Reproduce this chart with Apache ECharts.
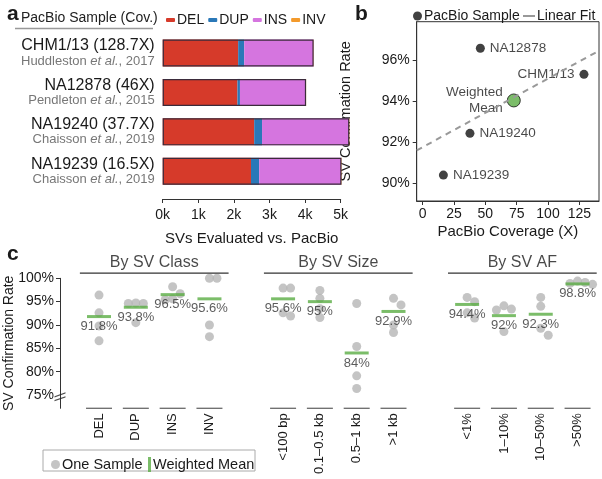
<!DOCTYPE html>
<html><head><meta charset="utf-8">
<script src="https://cdn.jsdelivr.net/npm/echarts@6/dist/echarts.min.js"></script>
<style>html,body{margin:0;padding:0;background:#fff}#c{width:602px;height:479px}</style>
</head><body><div id="c"></div>
<script>
const FONT = '"Liberation Sans", Arial, Helvetica, sans-serif';
const INK = '#1a1a1a';

// ---------- Panel a data ----------
const samples = ['CHM1/13 (128.7X)', 'NA12878 (46X)', 'NA19240 (37.7X)', 'NA19239 (16.5X)'];
const sourceAuthors = ['Huddleston', 'Pendleton', 'Chaisson', 'Chaisson'];
const sourceYears = ['2017', '2015', '2019', '2019'];
const delCounts = [2120, 2100, 2570, 2480];
const dupCounts = [170, 70, 220, 230];
const insCounts = [1940, 1850, 2440, 2300];
const invCounts = [10, 8, 12, 12];
const svTypeNames = ['DEL', 'DUP', 'INS', 'INV'];

// ---------- Panel b data ----------
const bSamples = ['CHM1/13', 'NA12878', 'NA19240', 'NA19239'];
const bCoverage = [128.7, 46, 37.7, 16.5];
const bRate = [95.3, 96.57, 92.43, 90.4];
const meanCoverage = [72.7];
const meanRate = [94.03];
const fitCoverage = [-4.8, 140.7];
const fitRate = [91.6, 96.45];
const bXTicks = [0, 25, 50, 75, 100, 125];
const bYTicks = [90, 92, 94, 96];

// ---------- Panel c data ----------
const cCategories = ['DEL', 'DUP', 'INS', 'INV', '', '<100 bp', '0.1–0.5 kb', '0.5–1 kb', '>1 kb', '', '<1%', '1–10%', '10–50%', '>50%'];
const cSampleRates = [
  [96.4, 92.6, 89.8, 86.6],
  [94.7, 94.6, 94.6, 90.5],
  [98.2, 96.7, 95.6, 95.4],
  [100.0, 100.0, 90.0, 87.5],
  null,
  [97.9, 97.9, 92.6, 91.9],
  [97.4, 95.7, 93.5, 91.6],
  [94.6, 85.4, 79.1, 76.4],
  [95.7, 94.3, 90.0, 88.4],
  null,
  [95.9, 95.0, 92.6, 91.5],
  [94.1, 93.4, 93.2, 88.6],
  [95.9, 94.0, 89.3, 87.8],
  [99.4, 99.1, 98.9, 98.7]
];
const cMeans = [91.8, 93.8, 96.5, 95.6, null, 95.6, 95, 84, 92.9, null, 94.4, 92, 92.3, 98.8];
const cGroupNames = ['By SV Class', 'By SV Size', 'By SV AF'];
const cGroupFirst = [0, 5, 10];
const cGroupLast = [3, 8, 13];
const cYLabels = [75, 80, 85, 90, 95, 100];
const cYTicks = [80, 85, 90, 95, 100];

// ---------- layout ----------
const GA = {left: 162.7, top: 33.3, width: 178, height: 157.7};
const GB = {left: 416.7, top: 21.7, width: 182.3, height: 179.3};
const GC = {left: 60, top: 278.3, width: 536.7, height: 130};
const C_XMIN = -1.06, C_XMAX = 13.52, C_YMIN = 72.15, C_YMAX = 100;
const HEADER_LINE_Y = 101.13, HEADER_TEXT_Y = 103.4;

const RED = '#d63a2a', BLUE = '#2a78b8', VIOLET = '#d575df', ORANGE = '#f39a2c';
const GREY = '#b5b5b5', GREEN = '#5aac44';

// beeswarm layout for sample points
const pyPerUnit = GC.height / (C_YMAX - C_YMIN);
const pxPerSlot = GC.width / (C_XMAX - C_XMIN);
const STEP = 7.5, MIN_D = 7.2;
const samplePoints = [];
cSampleRates.forEach((vals, i) => {
  if (!vals) return;
  const placed = [];
  [...vals].sort((a, b) => b - a).forEach(v => {
    for (const k of [0, 1, -1, 2, -2, 3, -3]) {
      const dx = k * STEP;
      if (placed.every(p => Math.hypot(dx - p.dx, (v - p.v) * pyPerUnit) >= MIN_D)) {
        placed.push({dx, v});
        samplePoints.push([i + dx / pxPerSlot, v]);
        break;
      }
    }
  });
});
const meanPoints = [];
cMeans.forEach((m, i) => { if (m != null) meanPoints.push([i, m]); });
const catIdx = [];
cCategories.forEach((c, i) => { if (c) catIdx.push(i); });

const totals = samples.map((_, i) => delCounts[i] + dupCounts[i] + insCounts[i] + invCounts[i]);

const txt = (size, extra) => Object.assign({fontFamily: FONT, fontSize: size, color: INK}, extra || {});

const series = [];
// Panel a bars
[[delCounts, RED], [dupCounts, BLUE], [insCounts, VIOLET], [invCounts, ORANGE]].forEach(([arr, col], k) => {
  series.push({
    name: svTypeNames[k], type: 'bar', stack: 'sv', xAxisIndex: 0, yAxisIndex: 0, clip: false,
    barWidth: 27, barGap: '-100%', data: arr, itemStyle: {color: col}, silent: true
  });
});
series.push({
  name: 'outline', type: 'bar', xAxisIndex: 0, yAxisIndex: 0, barWidth: 27, barGap: '-100%', clip: false,
  data: totals, itemStyle: {color: 'rgba(0,0,0,0)', borderColor: '#3b2b3b', borderWidth: 1.2}, z: 5, silent: true
});

// Panel b
series.push({
  name: 'Linear Fit', type: 'line', xAxisIndex: 1, yAxisIndex: 1,
  data: fitCoverage.map((x, i) => [x, fitRate[i]]), symbol: 'none',
  lineStyle: {color: '#999', width: 2, type: [6, 5]}, itemStyle: {color: '#999'}, silent: true
});
series.push({
  name: 'PacBio Sample', type: 'scatter', xAxisIndex: 1, yAxisIndex: 1, symbolSize: 9,
  itemStyle: {color: '#111'},
  data: bSamples.map((n, i) => ({
    name: n, value: [bCoverage[i], bRate[i]],
    label: {show: true, formatter: n, position: n === 'CHM1/13' ? 'left' : 'right', distance: 5, ...txt(13.5)}
  }))
});
series.push({
  name: 'b-mean', type: 'scatter', xAxisIndex: 1, yAxisIndex: 1, symbolSize: 13,
  itemStyle: {color: GREEN, borderColor: '#111', borderWidth: 1},
  data: meanCoverage.map((x, i) => [x, meanRate[i]]),
  label: {show: true, formatter: 'Weighted\nMean', position: 'left', distance: 4, align: 'right', lineHeight: 16, ...txt(13.5)}
});

// Panel c
cGroupNames.forEach((g, k) => {
  series.push({
    name: 'hdr' + k, type: 'line', xAxisIndex: 2, yAxisIndex: 2, clip: false, symbol: 'none', silent: true,
    data: [[cGroupFirst[k] - 0.52, HEADER_LINE_Y], [cGroupLast[k] + 0.52, HEADER_LINE_Y]],
    lineStyle: {color: '#333', width: 1.2}
  });
});
series.push({
  name: 'hdr-text', type: 'scatter', xAxisIndex: 2, yAxisIndex: 2, clip: false, symbolSize: 0, silent: true,
  data: cGroupNames.map((g, k) => ({name: g, value: [(cGroupFirst[k] + cGroupLast[k]) / 2, HEADER_TEXT_Y]})),
  label: {show: true, position: 'inside', formatter: p => p.name, ...txt(16)}
});
series.push({
  name: 'baselines', type: 'scatter', xAxisIndex: 2, yAxisIndex: 2, clip: false, silent: true,
  symbol: 'rect', symbolSize: [26, 1.3], itemStyle: {color: '#444'},
  data: catIdx.map(i => [i, C_YMIN])
});
series.push({
  name: 'axisbreak', type: 'scatter', xAxisIndex: 2, yAxisIndex: 2, clip: false, silent: true, z: 6,
  symbol: 'path://M0,5 L10,1 L10,2.3 L0,6.3 Z M0,9 L10,5 L10,6.3 L0,10.3 Z', symbolSize: [11, 9],
  itemStyle: {color: '#222'}, data: [[C_XMIN, 74.6]]
});
series.push({
  name: 'One Sample', type: 'scatter', xAxisIndex: 2, yAxisIndex: 2, clip: false, symbolSize: 9,
  itemStyle: {color: GREY}, data: samplePoints, z: 2
});
series.push({
  name: 'Weighted Mean', type: 'scatter', xAxisIndex: 2, yAxisIndex: 2, clip: false,
  symbol: 'rect', symbolSize: [24, 3], itemStyle: {color: GREEN}, z: 3,
  data: meanPoints,
  label: {show: true, position: 'bottom', distance: 2, formatter: p => p.value[1] + '%', ...txt(13, {color: '#333'})}
});

const option = {
  animation: false,
  textStyle: {fontFamily: FONT},
  title: [
    {text: 'a', left: 2, top: -1, textStyle: txt(21, {fontWeight: 'bold'})},
    {text: 'b', left: 350, top: -1, textStyle: txt(21, {fontWeight: 'bold'})},
    {text: 'c', left: 2, top: 239, textStyle: txt(21, {fontWeight: 'bold'})},
    {text: 'PacBio Sample (Cov.)', left: 16, top: 6, textStyle: txt(14, {fontWeight: 'normal', color: '#222'})}
  ],
  graphic: [
    {type: 'line', shape: {x1: 15, y1: 28.5, x2: 153, y2: 28.5}, style: {stroke: '#999', lineWidth: 1.5}, silent: true},
    {type: 'rect', shape: {x: 43, y: 450, width: 212, height: 21}, style: {fill: 'none', stroke: '#aaa', lineWidth: 1}, silent: true}
  ],
  legend: [
    {data: svTypeNames.map(n => ({name: n, icon: 'roundRect'})), left: 161, top: 8, itemWidth: 9, itemHeight: 4, itemGap: 4,
      textStyle: txt(14, {padding: [0, 0, 0, -3]}), selectedMode: false},
    {data: [{name: 'PacBio Sample', icon: 'circle'}], left: 408, top: 4, itemWidth: 9, itemHeight: 9,
      textStyle: txt(14, {padding: [0, 0, 0, -3]}), selectedMode: false},
    {data: [{name: 'Linear Fit', icon: 'rect'}], left: 518, top: 4, itemWidth: 12, itemHeight: 2,
      textStyle: txt(14, {padding: [0, 0, 0, -3]}), selectedMode: false},
    {data: [{name: 'One Sample', icon: 'circle'}], left: 46, top: 452, itemWidth: 9, itemHeight: 9,
      textStyle: txt(14.5, {padding: [0, 0, 0, -3]}), selectedMode: false},
    {data: [{name: 'Weighted Mean', icon: 'rect'}], left: 143, top: 452, itemWidth: 3, itemHeight: 15,
      textStyle: txt(14.5, {padding: [0, 0, 0, -3]}), selectedMode: false}
  ],
  grid: [
    Object.assign({outerBoundsMode: 'none', containLabel: false}, GA),
    Object.assign({outerBoundsMode: 'none', containLabel: false, show: true, borderColor: '#333', borderWidth: 1, backgroundColor: 'transparent'}, GB),
    Object.assign({outerBoundsMode: 'none', containLabel: false}, GC)
  ],
  xAxis: [
    {gridIndex: 0, type: 'value', min: 0, max: 5000, interval: 1000, offset: 8,
      axisLine: {show: true, onZero: false, lineStyle: {color: '#333'}}, axisTick: {show: true, length: 4, lineStyle: {color: '#333'}},
      splitLine: {show: false},
      axisLabel: {formatter: v => (v / 1000) + 'k', margin: 9, ...txt(14)},
      name: 'SVs Evaluated vs. PacBio', nameLocation: 'middle', nameGap: 32, nameMoveOverlap: false, nameTextStyle: txt(15)},
    {gridIndex: 1, type: 'value', min: -4.8, max: 140.7,
      axisLine: {show: true, onZero: false, lineStyle: {color: '#333'}},
      axisTick: {show: true, length: 4, customValues: bXTicks, lineStyle: {color: '#333'}},
      splitLine: {show: false},
      axisLabel: {customValues: bXTicks, margin: 6, ...txt(14)},
      name: 'PacBio Coverage (X)', nameLocation: 'middle', nameGap: 23, nameMoveOverlap: false, nameTextStyle: txt(15)},
    {gridIndex: 2, type: 'value', min: C_XMIN, max: C_XMAX,
      axisLine: {show: false, onZero: false}, axisTick: {show: false}, splitLine: {show: false},
      axisLabel: {customValues: catIdx, formatter: v => cCategories[Math.round(v)], rotate: 90, margin: 5, ...txt(13)}}
  ],
  yAxis: [
    {gridIndex: 0, type: 'category', inverse: true, data: samples,
      axisLine: {show: false}, axisTick: {show: false},
      axisLabel: {
        margin: 8, align: 'right',
        formatter: (v, i) => `{n|${v}}\n{g|${sourceAuthors[i]} }{i|et al.}{g|, ${sourceYears[i]}}`,
        rich: {
          n: {fontFamily: FONT, fontSize: 16, color: INK, lineHeight: 16, align: 'right'},
          g: {fontFamily: FONT, fontSize: 13, color: '#777', lineHeight: 14, align: 'right'},
          i: {fontFamily: FONT, fontSize: 13, color: '#777', lineHeight: 14, fontStyle: 'italic', align: 'right'}
        }
      }},
    {gridIndex: 1, type: 'value', min: 89.14, max: 97.86,
      axisLine: {show: true, onZero: false, lineStyle: {color: '#333'}},
      axisTick: {show: true, length: 4, customValues: bYTicks, lineStyle: {color: '#333'}},
      splitLine: {show: false},
      axisLabel: {customValues: bYTicks, formatter: v => v + '%', margin: 7, ...txt(14)},
      name: 'SV Confirmation Rate', nameLocation: 'middle', nameGap: 63, nameMoveOverlap: false, nameTextStyle: txt(14.5)},
    {gridIndex: 2, type: 'value', min: C_YMIN, max: C_YMAX,
      axisLine: {show: true, onZero: false, lineStyle: {color: '#333'}},
      axisTick: {show: true, length: 4, customValues: cYTicks, lineStyle: {color: '#333'}},
      splitLine: {show: false},
      axisLabel: {customValues: cYLabels, formatter: v => v + '%', margin: 6, ...txt(14)},
      name: 'SV Confirmation Rate', nameLocation: 'middle', nameGap: 44, nameMoveOverlap: false, nameTextStyle: txt(14)}
  ],
  series
};
const chart = echarts.init(document.getElementById('c'), null, {renderer: 'canvas'});
chart.setOption(option);
</script></body></html>
